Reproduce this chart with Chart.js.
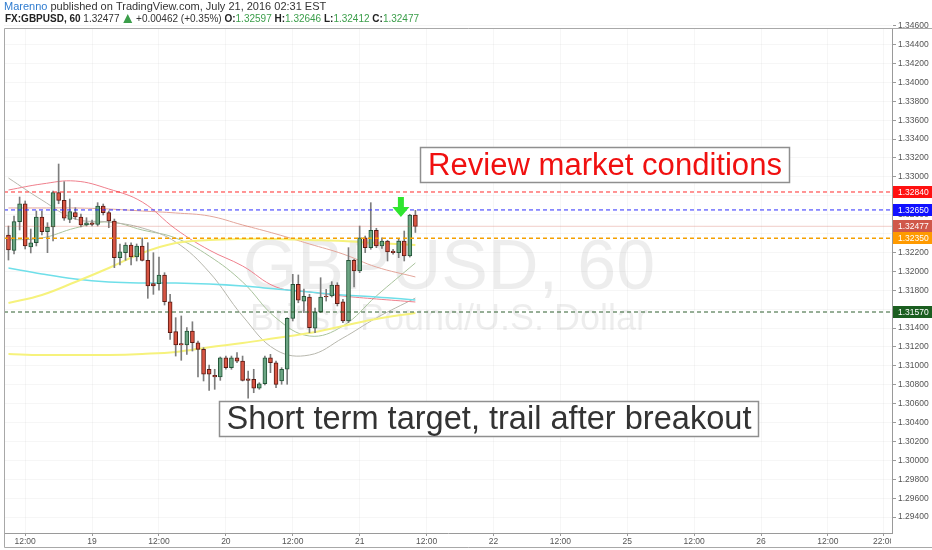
<!DOCTYPE html>
<html>
<head>
<meta charset="utf-8">
<script src="https://cdn.jsdelivr.net/npm/chart.js@4.4.0/dist/chart.umd.min.js"></script>
<style>
  html, body { margin: 0; padding: 0; background: #fff; }
  #wrap { width: 932px; height: 550px; }
</style>
</head>
<body>
<div id="wrap"><canvas id="chart" width="932" height="550"></canvas></div>
<script>
// hourly candles, hour 0 = Jul 18 00:00 (weekend skipped on the axis)
const firstHour = 9;
const opens = [1.32385, 1.32223, 1.32526, 1.32716, 1.32258, 1.32303, 1.32575, 1.32420, 1.32470, 1.32833,
  1.32752, 1.32551, 1.32621, 1.32575, 1.32491, 1.32515, 1.32498, 1.32692, 1.32621, 1.32533,
  1.32145, 1.32198, 1.32279, 1.32152, 1.32269, 1.32117, 1.31870, 1.31870, 1.31962, 1.31679,
  1.31362, 1.31235, 1.31221, 1.31369, 1.31245, 1.31175, 1.30964, 1.30900, 1.30882, 1.31086,
  1.30981, 1.31086, 1.31051, 1.30864, 1.30858, 1.30763, 1.30811, 1.31086, 1.31033, 1.30840,
  1.30964, 1.31503, 1.31863, 1.31686, 1.31729, 1.31398, 1.31573, 1.31739, 1.31739, 1.31856,
  1.31679, 1.31475, 1.32117, 1.32004, 1.32356, 1.32251, 1.32435, 1.32269, 1.32321, 1.32216,
  1.32198, 1.32321, 1.32163, 1.32597];
const highs = [1.32480, 1.32586, 1.32787, 1.32745, 1.32448, 1.32639, 1.32639, 1.32515, 1.32851, 1.33136,
  1.32949, 1.32766, 1.32674, 1.32607, 1.32568, 1.32544, 1.32727, 1.32713, 1.32639, 1.32554,
  1.32290, 1.32303, 1.32303, 1.32290, 1.32353, 1.32303, 1.32198, 1.32152, 1.31986, 1.31757,
  1.31510, 1.31528, 1.31404, 1.31467, 1.31263, 1.31192, 1.31009, 1.30964, 1.31094, 1.31104,
  1.31104, 1.31140, 1.31104, 1.30946, 1.30964, 1.30822, 1.31104, 1.31122, 1.31051, 1.30981,
  1.31510, 1.31969, 1.31962, 1.31813, 1.31757, 1.31612, 1.31933, 1.31810, 1.31891, 1.31880,
  1.31704, 1.32251, 1.32128, 1.32480, 1.32374, 1.32727, 1.32456, 1.32356, 1.32329, 1.32234,
  1.32339, 1.32427, 1.32604, 1.32646];
const lows = [1.32120, 1.32184, 1.32438, 1.32237, 1.32195, 1.32269, 1.32385, 1.32198, 1.32321, 1.32716,
  1.32540, 1.32515, 1.32551, 1.32470, 1.32480, 1.32480, 1.32480, 1.32597, 1.32462, 1.32039,
  1.32067, 1.32117, 1.32067, 1.32110, 1.32110, 1.31715, 1.31757, 1.31800, 1.31644, 1.31281,
  1.31104, 1.31059, 1.31122, 1.31157, 1.30882, 1.30840, 1.30741, 1.30752, 1.30847, 1.30964,
  1.30964, 1.31033, 1.30840, 1.30657, 1.30716, 1.30752, 1.30798, 1.30928, 1.30769, 1.30805,
  1.30805, 1.31475, 1.31668, 1.31563, 1.31351, 1.31351, 1.31563, 1.31686, 1.31729, 1.31634,
  1.31457, 1.31457, 1.31835, 1.31986, 1.32198, 1.32234, 1.32251, 1.32244, 1.32110, 1.32181,
  1.32145, 1.32110, 1.32152, 1.32412];
const closes = [1.32226, 1.32526, 1.32716, 1.32269, 1.32303, 1.32575, 1.32420, 1.32470, 1.32833, 1.32752,
  1.32562, 1.32632, 1.32575, 1.32491, 1.32515, 1.32498, 1.32692, 1.32621, 1.32533, 1.32145,
  1.32208, 1.32279, 1.32152, 1.32269, 1.32117, 1.31845, 1.31845, 1.31962, 1.31679, 1.31351,
  1.31221, 1.31221, 1.31369, 1.31245, 1.31175, 1.30911, 1.30911, 1.30882, 1.31086, 1.30981,
  1.31086, 1.31051, 1.30847, 1.30847, 1.30763, 1.30811, 1.31086, 1.31033, 1.30805, 1.30964,
  1.31503, 1.31863, 1.31694, 1.31736, 1.31404, 1.31573, 1.31729, 1.31729, 1.31856, 1.31658,
  1.31475, 1.32117, 1.32004, 1.32356, 1.32251, 1.32435, 1.32269, 1.32321, 1.32205, 1.32198,
  1.32321, 1.32163, 1.32597, 1.32477];

// moving averages at these hours
const maHours = [9, 15, 21, 27, 33, 39, 45, 51, 57, 63, 69, 75, 82];
const maRed = [1.32861, 1.32925, 1.32956, 1.32872, 1.32734, 1.32448, 1.32226, 1.32057, 1.31835, 1.31782, 1.31739, 1.31708, 1.31676];
const maSalmon = [1.32671, 1.32671, 1.32671, 1.32660, 1.32639, 1.32618, 1.32586, 1.32491, 1.32396, 1.32290, 1.32184, 1.32046, 1.31941];
const maGray = [1.32988, 1.32755, 1.32554, 1.32523, 1.32459, 1.32311, 1.31993, 1.31528, 1.31168, 1.31115, 1.31295, 1.31507, 1.31718];
const maGreen = [1.32332, 1.32353, 1.32459, 1.32523, 1.32438, 1.32353, 1.32163, 1.31888, 1.31507, 1.31316, 1.31422, 1.31740, 1.32089];
const maYellowHi = [1.31665, 1.31750, 1.31888, 1.32036, 1.32195, 1.32300, 1.32332, 1.32343, 1.32343, 1.32332, 1.32321, 1.32300, 1.32279];
const maYellowLo = [1.31126, 1.31115, 1.31115, 1.31115, 1.31126, 1.31147, 1.31198, 1.31242, 1.31295, 1.31348, 1.31422, 1.31496, 1.31560];
const maCyan = [1.32036, 1.31972, 1.31919, 1.31888, 1.31877, 1.31877, 1.31866, 1.31845, 1.31814, 1.31782, 1.31750, 1.31729, 1.31697];

// horizontal levels drawn on the chart
const levels = [1.32840, 1.32650, 1.32350, 1.31570];
const lastPrice = 1.32477;

const xTickHours = [12, 24, 36, 48, 60, 72, 84, 96, 108, 120, 132, 144, 156, 166];
const xTickLabels = ['12:00', '19', '12:00', '20', '12:00', '21', '12:00', '22', '12:00', '25', '12:00', '26', '12:00', '22:00'];
const yTicks = [1.294, 1.296, 1.298, 1.300, 1.302, 1.304, 1.306, 1.308, 1.310, 1.312, 1.314, 1.316, 1.318,
  1.320, 1.322, 1.324, 1.326, 1.328, 1.330, 1.332, 1.334, 1.336, 1.338, 1.340, 1.342, 1.344, 1.346];

const arrowHour = 79.4;
const arrowPrice = 1.32575;

const X_MIN = 8.2, X_MAX = 167.5;
const Y_MIN = 1.292315, Y_MAX = 1.345754;

const upFill = '#6ba583', upLine = '#225437', downFill = '#d75442', downLine = '#5b1a13';
const levelColors = ['#ff2b2b', '#2b2bff', '#f5a000', '#2e5e2e'];
const boxColors = ['#ff1010', '#1010ff', '#d0584a', '#ff9a00', '#1b5e20'];

const hours = opens.map((o, i) => firstHour + i);
const isUp = opens.map((o, i) => closes[i] >= o);

function maSet(values, color, width) {
  return {
    type: 'line',
    data: maHours.map((h, i) => ({ x: h, y: values[i] })),
    borderColor: color,
    borderWidth: width,
    pointRadius: 0,
    tension: 0.4,
    order: 5
  };
}

const datasets = [
  {
    type: 'bar',
    data: hours.map((h, i) => ({ x: h, y: [opens[i], closes[i]] })),
    backgroundColor: isUp.map(u => u ? upFill : downFill),
    borderColor: isUp.map(u => u ? upLine : downLine),
    borderWidth: 1,
    borderSkipped: false,
    barThickness: 4,
    grouped: false,
    order: 1
  },
  {
    type: 'bar',
    data: hours.map((h, i) => ({ x: h, y: [lows[i], highs[i]] })),
    backgroundColor: '#7d7d7d',
    barThickness: 1,
    grouped: false,
    order: 2
  },
  maSet(maYellowHi, '#f6f27c', 2),
  maSet(maYellowLo, '#f6f27c', 2),
  maSet(maCyan, '#6fdfe9', 1.5),
  maSet(maRed, '#ef7f8c', 1),
  maSet(maSalmon, '#e3a59a', 1),
  maSet(maGray, '#b7b7ad', 1),
  maSet(maGreen, '#a9c39c', 1),
  {
    type: 'line',
    data: [{ x: X_MIN, y: lastPrice }, { x: X_MAX, y: lastPrice }],
    borderColor: 'rgba(208,88,74,0.3)',
    borderWidth: 1,
    pointRadius: 0,
    order: 0
  }
];
levels.forEach((lvl, i) => {
  datasets.push({
    type: 'line',
    data: [{ x: X_MIN, y: lvl }, { x: X_MAX, y: lvl }],
    borderColor: levelColors[i],
    borderWidth: i === 2 ? 1.6 : 1,
    borderDash: [4, 3],
    pointRadius: 0,
    order: 0
  });
});

const SANS = '"Liberation Sans", Arial, sans-serif';

function fitFont(ctx, text, width, weight) {
  let size = 30;
  ctx.font = `${weight || ''} ${size}px ${SANS}`;
  size = size * width / ctx.measureText(text).width;
  ctx.font = `${weight || ''} ${size}px ${SANS}`;
}

function drawParts(ctx, parts, x, y) {
  parts.forEach(p => {
    if (p.tri) {
      ctx.fillStyle = p.color;
      ctx.beginPath();
      ctx.moveTo(x + 1, y + 4);
      ctx.lineTo(x + 10, y + 4);
      ctx.lineTo(x + 5.5, y - 5);
      ctx.closePath();
      ctx.fill();
      x += 11;
      return;
    }
    ctx.font = `${p.bold ? 'bold ' : ''}${p.size}px ${SANS}`;
    ctx.fillStyle = p.color;
    ctx.fillText(p.text, x, y);
    x += ctx.measureText(p.text).width;
  });
}

function textBox(ctx, text, color, left, top, w, h, textW) {
  ctx.fillStyle = '#fff';
  ctx.fillRect(left, top, w, h);
  ctx.strokeStyle = '#8f8f8f';
  ctx.lineWidth = 1.5;
  ctx.strokeRect(left, top, w, h);
  fitFont(ctx, text, textW);
  ctx.fillStyle = color;
  ctx.textAlign = 'center';
  ctx.textBaseline = 'middle';
  ctx.fillText(text, left + w / 2, top + h / 2 + 1);
}

const decor = {
  id: 'decor',
  beforeDatasetsDraw(chart) {
    const { ctx, chartArea: a } = chart;
    ctx.save();
    ctx.beginPath();
    ctx.rect(a.left, a.top, a.right - a.left, a.bottom - a.top);
    ctx.clip();
    ctx.fillStyle = 'rgba(0,0,0,0.07)';
    ctx.textAlign = 'center';
    ctx.textBaseline = 'alphabetic';
    ctx.font = `70px ${SANS}`;
    ctx.fillText('GBPUSD, 60', 449, 289);
    ctx.font = `36px ${SANS}`;
    ctx.fillText('British Pound/U.S. Dollar', 449, 330);
    ctx.restore();
  },
  afterDraw(chart) {
    const { ctx, chartArea: a, scales } = chart;
    const y = scales.y;
    ctx.save();

    // clip the last time label at the price axis
    ctx.fillStyle = '#fff';
    ctx.fillRect(a.right - 1, a.bottom + 1, 42, 14);

    // frame
    ctx.strokeStyle = '#a8a8a8';
    ctx.lineWidth = 1;
    ctx.beginPath();
    ctx.moveTo(4.5, 28.5); ctx.lineTo(932, 28.5);
    ctx.moveTo(4.5, 28.5); ctx.lineTo(4.5, 547.5);
    ctx.moveTo(4.5, 547.5); ctx.lineTo(932, 547.5);
    ctx.stroke();

    // header
    ctx.textAlign = 'left';
    ctx.textBaseline = 'middle';
    const green = '#3b9e4a';
    drawParts(ctx, [
      { text: 'Marenno', color: '#2f7cd0', size: 11 },
      { text: ' published on TradingView.com, July 21, 2016 02:31 EST', color: '#333', size: 11 }
    ], 4, 7);
    drawParts(ctx, [
      { text: 'FX:GBPUSD, 60', color: '#222', size: 10, bold: true },
      { text: ' 1.32477 ', color: '#333', size: 10 },
      { tri: true, color: green },
      { text: ' +0.00462 (+0.35%) ', color: '#333', size: 10 },
      { text: 'O:', color: '#222', size: 10, bold: true },
      { text: '1.32597', color: green, size: 10 },
      { text: ' H:', color: '#222', size: 10, bold: true },
      { text: '1.32646', color: green, size: 10 },
      { text: ' L:', color: '#222', size: 10, bold: true },
      { text: '1.32412', color: green, size: 10 },
      { text: ' C:', color: '#222', size: 10, bold: true },
      { text: '1.32477', color: green, size: 10 }
    ], 5, 19);

    // price labels on the axis
    const boxLevels = [levels[0], levels[1], lastPrice, levels[2], levels[3]];
    ctx.font = `8.5px ${SANS}`;
    ctx.textBaseline = 'middle';
    boxLevels.forEach((lvl, i) => {
      const py = y.getPixelForValue(lvl);
      ctx.fillStyle = boxColors[i];
      ctx.fillRect(a.right + 1, Math.round(py) - 6, 39, 12);
      ctx.fillStyle = '#fff';
      ctx.fillText(lvl.toFixed(5), a.right + 6, py + 0.5);
    });

    // annotations
    textBox(ctx, 'Review market conditions', '#f01010', 420.5, 147.5, 369, 35, 354);
    textBox(ctx, 'Short term target, trail after breakout', '#333', 219.5, 401.5, 539, 35, 525);

    // green arrow
    const ax = scales.x.getPixelForValue(arrowHour);
    const ay = y.getPixelForValue(arrowPrice);
    ctx.fillStyle = '#2fe52f';
    ctx.beginPath();
    ctx.moveTo(ax, ay);
    ctx.lineTo(ax - 8.5, ay - 10);
    ctx.lineTo(ax - 3, ay - 10);
    ctx.lineTo(ax - 3, ay - 20);
    ctx.lineTo(ax + 3, ay - 20);
    ctx.lineTo(ax + 3, ay - 10);
    ctx.lineTo(ax + 8.5, ay - 10);
    ctx.closePath();
    ctx.fill();

    ctx.restore();
  }
};

new Chart(document.getElementById('chart').getContext('2d'), {
  type: 'bar',
  data: { datasets },
  options: {
    responsive: false,
    animation: false,
    devicePixelRatio: 1,
    layout: { padding: { top: 28, left: 4, right: 0, bottom: 2 } },
    plugins: { legend: { display: false }, tooltip: { enabled: false } },
    scales: {
      x: {
        type: 'linear',
        min: X_MIN,
        max: X_MAX,
        offset: false,
        grid: { color: 'rgba(0,0,0,0.035)', offset: false, tickColor: '#999', tickLength: 3 },
        border: { color: '#9a9a9a' },
        ticks: {
          autoSkip: false,
          maxRotation: 0,
          padding: 1,
          color: '#555',
          font: { size: 8.5, family: SANS },
          callback: (v, i) => xTickLabels[i]
        },
        afterBuildTicks: s => { s.ticks = xTickHours.map(v => ({ value: v })); },
        afterFit: s => { s.height = 15; }
      },
      y: {
        type: 'linear',
        position: 'right',
        min: Y_MIN,
        max: Y_MAX,
        beginAtZero: false,
        grid: { color: 'rgba(0,0,0,0.035)', tickColor: '#999', tickLength: 4 },
        border: { color: '#9a9a9a' },
        ticks: {
          padding: 2,
          color: '#555',
          font: { size: 8.5, family: SANS },
          callback: v => v.toFixed(5)
        },
        afterBuildTicks: s => { s.ticks = yTicks.map(v => ({ value: v })); },
        afterFit: s => { s.width = 40; }
      }
    }
  },
  plugins: [decor]
});
</script>
</body>
</html>
